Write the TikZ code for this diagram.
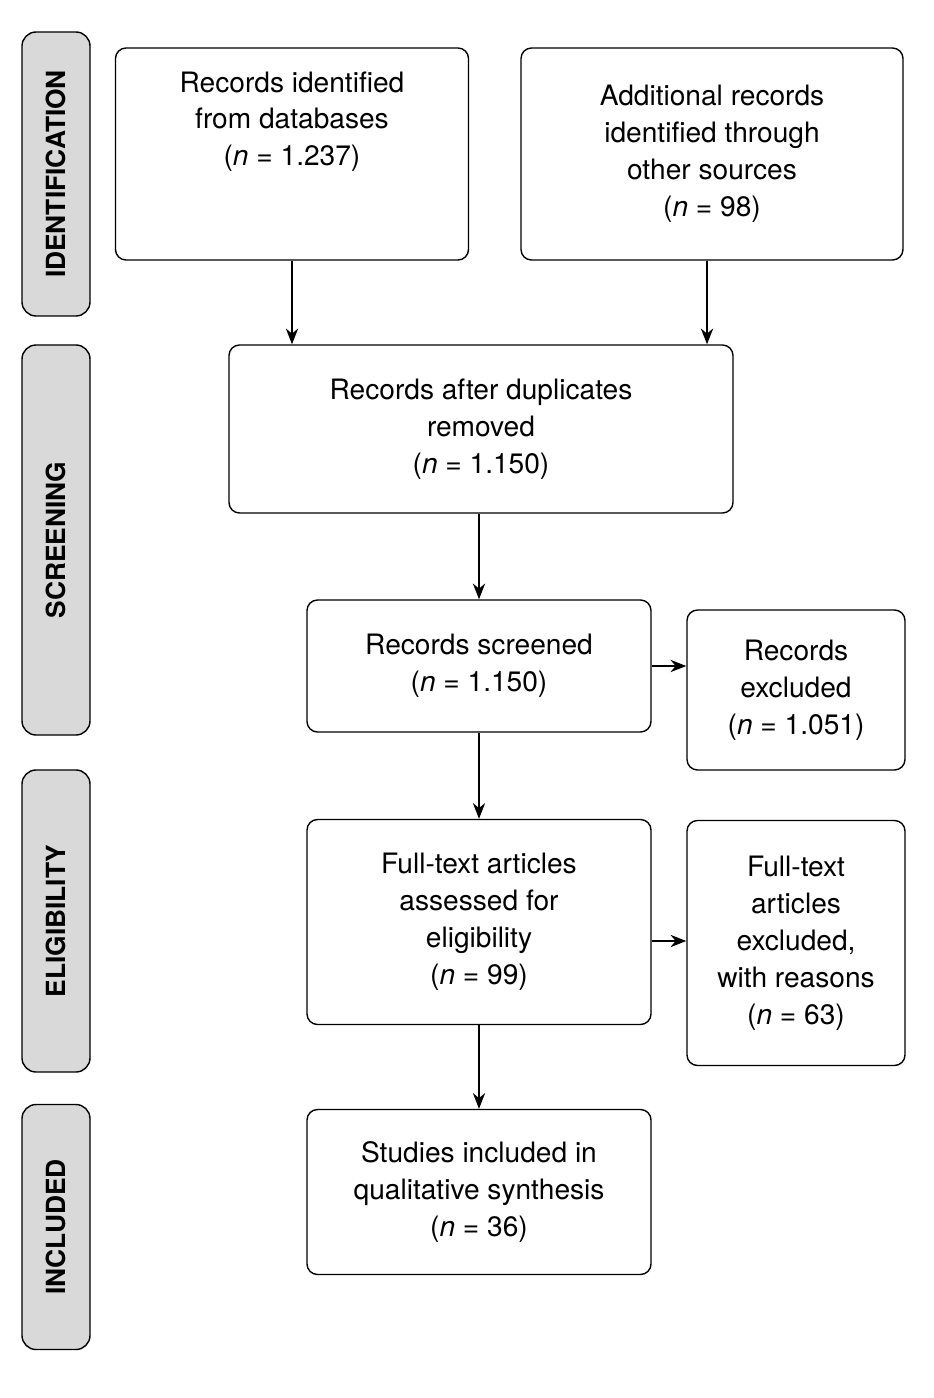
\documentclass[tikz,border=0pt]{standalone}
\usepackage{fontspec}
\setmainfont{TeX Gyre Heros}
\usetikzlibrary{positioning}
\usetikzlibrary{arrows.meta}

\tikzset{
  box/.style = {draw, thick, rounded corners=6pt, align=center, inner sep=0pt,
    font=\fontsize{16}{21}\selectfont},
  phase/.style = {draw, thick, fill=black!15, rounded corners=8pt, inner sep=0pt,
    font=\bfseries\fontsize{15}{18}\selectfont},
  flow/.style = {-{Stealth[length=9pt,width=7pt]}, thick}
}

\begin{document}
\begin{tikzpicture}[x=0.02cm,y=-0.02cm]
\useasboundingbox (0,0) rectangle (933,1398);
% phases
\node[phase, minimum width=68*0.02cm, minimum height=284*0.02cm] (id) at (56,174) {};
\node[rotate=90, font=\bfseries\fontsize{15}{18}\selectfont] at (id) {IDENTIFICATION};
\node[phase, minimum width=68*0.02cm, minimum height=390*0.02cm] (scr) at (56,540) {};
\node[rotate=90, font=\bfseries\fontsize{15}{18}\selectfont] at (scr) {SCREENING};
\node[phase, minimum width=68*0.02cm, minimum height=302*0.02cm] (eli) at (56,921) {};
\node[rotate=90, font=\bfseries\fontsize{15}{18}\selectfont] at (eli) {ELIGIBILITY};
\node[phase, minimum width=68*0.02cm, minimum height=245*0.02cm] (inc) at (56,1227) {};
\node[rotate=90, font=\bfseries\fontsize{15}{18}\selectfont] at (inc) {INCLUDED};
% boxes
\node[box, minimum width=353*0.02cm, minimum height=212*0.02cm] (db) at (292,154)
  {Records identified\\from databases\\(\textit{n} = 1.237)\\[1.2em]};
\node[box, minimum width=382*0.02cm, minimum height=212*0.02cm] (other) at (712,154)
  {Additional records\\identified through\\other sources\\(\textit{n} = 98)};
\node[box, minimum width=504*0.02cm, minimum height=168*0.02cm] (dup) at (481,429)
  {Records after duplicates\\removed\\(\textit{n} = 1.150)};
\node[box, minimum width=344*0.02cm, minimum height=132*0.02cm] (scrd) at (479,666)
  {Records screened\\(\textit{n} = 1.150)};
\node[box, minimum width=218*0.02cm, minimum height=160*0.02cm] (exc) at (796,690)
  {Records\\excluded\\(\textit{n} = 1.051)};
\node[box, minimum width=344*0.02cm, minimum height=205*0.02cm] (full) at (479,922)
  {Full-text articles\\assessed for\\eligibility\\(\textit{n} = 99)};
\node[box, minimum width=218*0.02cm, minimum height=245*0.02cm] (fexc) at (796,943)
  {Full-text\\articles\\excluded,\\with reasons\\(\textit{n} = 63)};
\node[box, minimum width=344*0.02cm, minimum height=165*0.02cm] (incl) at (479,1192)
  {Studies included in\\qualitative synthesis\\(\textit{n} = 36)};
% arrows
\draw[flow] (db.south) -- (db.south |- dup.north);
\draw[flow] ([xshift=-5*0.02cm]other.south) -- ([xshift=-5*0.02cm]other.south |- dup.north);
\draw[flow] (dup.south -| scrd.north) -- (scrd.north);
\draw[flow] (scrd.east) -- (scrd.east -| exc.west);
\draw[flow] (scrd.south) -- (full.north);
\draw[flow] ([yshift=-19*0.02cm]full.east) -- ([yshift=-19*0.02cm]full.east -| fexc.west);
\draw[flow] (full.south) -- (incl.north);
\end{tikzpicture}
\end{document}
